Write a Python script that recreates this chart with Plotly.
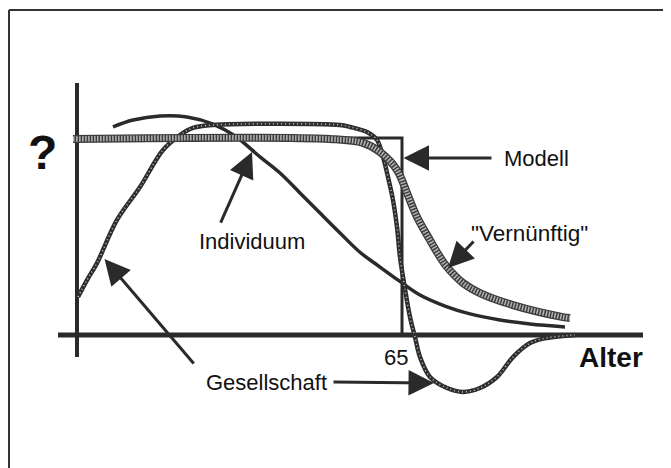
import plotly.graph_objects as go

# ---- data (age in years, value relative to model level = 1) ----
modell_x = [0, 65, 65]
modell_y = [1.0, 1.0, 0.0]

vern_x = [-0.8, 50.6, 57.2, 60.6, 64.0, 66.0, 68.0, 70.6, 72.6, 74.0, 77.2, 80.6, 87.2, 97.2, 98.6]
vern_y = [0.995, 0.995, 0.975, 0.929, 0.838, 0.721, 0.599, 0.482, 0.396, 0.345, 0.264, 0.213, 0.152, 0.091, 0.086]

indiv_x = [7.2, 11.2, 16.6, 22.0, 27.2, 31.6, 36.6, 40.6, 44.6, 48.6, 52.6, 56.6, 60.6, 64.6, 68.6, 73.6, 78.6,
           84.6, 90.6, 97.6]
indiv_y = [1.056, 1.091, 1.112, 1.107, 1.071, 1.010, 0.904, 0.822, 0.721, 0.619, 0.518, 0.420, 0.345, 0.272,
           0.203, 0.147, 0.107, 0.076, 0.056, 0.041]

ges_x = [0.2, 2.0, 4.0, 8.0, 12.6, 17.2, 20.6, 23.2, 27.2, 52.6, 54.6, 58.0, 60.0, 61.2, 62.2, 63.2, 64.0, 64.6,
         65.4, 66.6, 67.6, 68.6, 70.6, 74.0, 77.2, 80.6, 84.0, 87.2, 90.6, 94.0, 99.6]
ges_y = [0.193, 0.279, 0.365, 0.584, 0.751, 0.939, 1.015, 1.051, 1.066, 1.066, 1.056, 1.030, 0.990, 0.904, 0.802,
         0.685, 0.548, 0.396, 0.264, 0.091, -0.010, -0.112, -0.213, -0.269, -0.289, -0.269, -0.213, -0.112,
         -0.041, -0.015, 0.0]

xaxis_x = [-3.8, 113.2]
yaxis_y = [-0.112, 1.279]
tick_label = "65"
axis_title = "Alter"
y_label = "?"

INK = "#2a2a2a"
FONT = "Liberation Sans, Arial, Helvetica, sans-serif"

fig = go.Figure()

# axes
fig.add_trace(go.Scatter(x=xaxis_x, y=[0, 0], mode="lines", line=dict(color=INK, width=5), hoverinfo="skip"))
fig.add_trace(go.Scatter(x=[0, 0], y=yaxis_y, mode="lines", line=dict(color=INK, width=4), hoverinfo="skip"))

# Modell
fig.add_trace(go.Scatter(x=modell_x, y=modell_y, mode="lines", line=dict(color=INK, width=3), name="Modell"))

# Individuum
fig.add_trace(go.Scatter(x=indiv_x, y=indiv_y, mode="lines", line=dict(color=INK, width=3.5, shape="spline"),
                         name="Individuum"))

# Gesellschaft (dark textured line)
fig.add_trace(go.Scatter(x=ges_x, y=ges_y, mode="lines", line=dict(color="#2e2e2e", width=4.5, shape="spline"),
                         name="Gesellschaft"))
fig.add_trace(go.Scatter(x=ges_x, y=ges_y, mode="lines",
                         line=dict(color="#c4c4c4", width=1.5, shape="spline", dash="1px,3px"), hoverinfo="skip"))

# Vernünftig (thick grey textured band)
fig.add_trace(go.Scatter(x=vern_x, y=vern_y, mode="lines", line=dict(color="#3c3c3c", width=8, shape="spline"),
                         name="Vernünftig"))
fig.add_trace(go.Scatter(x=vern_x, y=vern_y, mode="lines",
                         line=dict(color="#b4b4b4", width=5.5, shape="spline", dash="1.5px,1.5px"),
                         hoverinfo="skip"))

def arrow(tail, head):
    fig.add_annotation(x=head[0], y=head[1], ax=tail[0], ay=tail[1], xref="x", yref="y", axref="x", ayref="y",
                       text="", showarrow=True, arrowhead=2, arrowsize=1.7, arrowwidth=3, arrowcolor=INK)

# arrows (tail -> head) in data coordinates
arrow((83.2, 0.898), (65.3, 0.898))      # Modell
arrow((79.6, 0.482), (74.2, 0.340))      # Vernünftig
arrow((28.6, 0.563), (35.0, 0.929))      # Individuum
arrow((23.6, -0.152), (5.5, 0.386))      # Gesellschaft up
arrow((51.0, -0.239), (71.4, -0.244))    # Gesellschaft right

def label(x, y, text, size=22, bold=False, xanchor="left"):
    fig.add_annotation(x=x, y=y, xref="x", yref="y", text=("<b>%s</b>" % text) if bold else text,
                       showarrow=False, xanchor=xanchor, yanchor="middle",
                       font=dict(family=FONT, size=size, color="#111111"))

label(85.0, 0.898, "Modell")
label(78.4, 0.515, "\"Vernünftig\"", size=22.5)
label(24.0, 0.475, "Individuum")
label(25.4, -0.240, "Gesellschaft")
label(61.0, -0.112, tick_label, size=22)
label(100.0, -0.112, axis_title, size=28, bold=True)
label(-6.9, 0.925, y_label, size=48, bold=True, xanchor="center")

# frame (top and left edges visible)
fig.add_shape(type="line", xref="paper", yref="paper", x0=1/663, x1=1, y0=1-2/460, y1=1-2/460,
              line=dict(color="#333333", width=2))
fig.add_shape(type="line", xref="paper", yref="paper", x0=1/663, x1=1/663, y0=0, y1=1-2/460,
              line=dict(color="#333333", width=2))

fig.update_layout(
    width=663, height=460, margin=dict(l=0, r=0, t=0, b=0),
    paper_bgcolor="white", plot_bgcolor="white", showlegend=False,
    xaxis=dict(range=[-13.8, 118.8], visible=False, fixedrange=True),
    yaxis=dict(range=[-0.6751, 1.6599], visible=False, fixedrange=True),
)

fig.write_html("out.html")
